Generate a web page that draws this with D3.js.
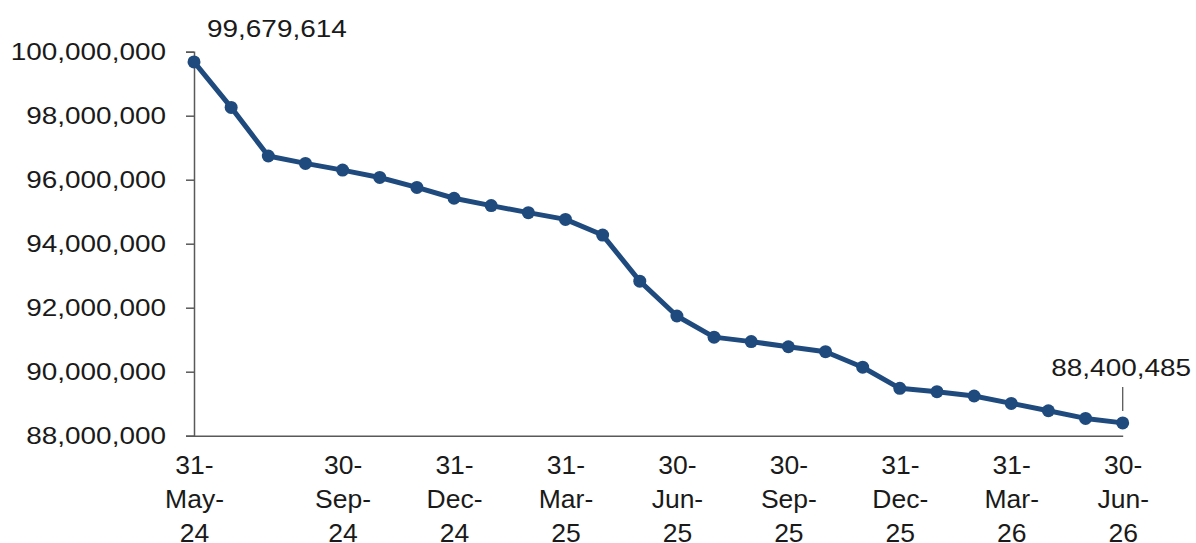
<!DOCTYPE html>
<html><head><meta charset="utf-8">
<script src="https://cdn.jsdelivr.net/npm/d3@7"></script>
<style>
html,body{margin:0;padding:0;background:#fff;}
svg{display:block;font-family:"Liberation Sans",Arial,sans-serif;}
</style></head>
<body><svg id="c" width="1196" height="543"></svg>
<script>
const months = ["May-24","Jun-24","Jul-24","Aug-24","Sep-24","Oct-24","Nov-24","Dec-24",
"Jan-25","Feb-25","Mar-25","Apr-25","May-25","Jun-25","Jul-25","Aug-25","Sep-25","Oct-25","Nov-25","Dec-25",
"Jan-26","Feb-26","Mar-26","Apr-26","May-26","Jun-26"];
const values = [99679614,98260000,96740000,96510000,96300000,96070000,95760000,95420000,
95190000,94970000,94760000,94270000,92830000,91740000,91080000,90940000,90780000,90625000,90140000,89480000,
89375000,89240000,89010000,88780000,88540000,88400485];
const tickIndex = [0,4,7,10,13,16,19,22,25];
const tickLabels = [["31-","May-","24"],["30-","Sep-","24"],["31-","Dec-","24"],["31-","Mar-","25"],
["30-","Jun-","25"],["30-","Sep-","25"],["31-","Dec-","25"],["31-","Mar-","26"],["30-","Jun-","26"]];
const yTicks = [88000000,90000000,92000000,94000000,96000000,98000000,100000000];
const annotated = [0,25];

const svg = d3.select("#c");
const SX = 1.14, FS = 24.5, XFS = 26.5;
const x = d3.scaleLinear().domain([0, months.length-1]).range([194, 1122.7]);
const y = d3.scaleLinear().domain([88000000, 100000000]).range([435.7, 51.7]);
const fmt = d3.format(",");

// y axis
const ya = svg.append("g").attr("transform","translate(194,0)")
  .call(d3.axisLeft(y).tickValues(yTicks).tickSize(8).tickPadding(20).tickFormat(fmt));
ya.select(".domain").attr("stroke","#595959").attr("stroke-width",1.5);
ya.selectAll(".tick line").attr("stroke","#595959").attr("stroke-width",1.5);
ya.selectAll(".tick text").attr("font-size",FS).attr("fill","#1a1a1a")
  .attr("font-family","Liberation Sans, Arial, sans-serif")
  .attr("x",-28/SX).attr("dy","0.3em").attr("transform",`scale(${SX},1)`);

// x axis
const xa = svg.append("g").attr("transform","translate(0,435.7)")
  .call(d3.axisBottom(x).tickValues(tickIndex).tickSize(0).tickFormat(""));
xa.select(".domain").attr("stroke","#595959").attr("stroke-width",1.5);
xa.selectAll(".tick text").each(function(d,i){
  const t = d3.select(this).attr("y",0).attr("dy",null)
    .attr("font-size",XFS).attr("fill","#1a1a1a").attr("text-anchor","middle")
    .attr("font-family","Liberation Sans, Arial, sans-serif");
  tickLabels[i].forEach((s,k)=>{
    t.append("tspan").attr("x",0).attr("y",38.6 + k*34).text(s);
  });
});

// line
const line = d3.line().x((d,i)=>x(i)).y(d=>y(d));
svg.append("path").datum(values).attr("d",line).attr("fill","none")
  .attr("stroke","#1F4A7E").attr("stroke-width",5).attr("stroke-linejoin","round");
svg.append("g").selectAll("circle").data(values).join("circle")
  .attr("cx",(d,i)=>x(i)).attr("cy",d=>y(d)).attr("r",6.5).attr("fill","#1F4A7E");

// annotations
const a0 = annotated[0];
svg.append("text").attr("x",(x(a0)+13)/SX).attr("y",y(values[a0])-25)
  .attr("transform",`scale(${SX},1)`).attr("font-size",FS).attr("fill","#1a1a1a")
  .text(fmt(values[a0]));
const a1 = annotated[1];
svg.append("line").attr("x1",x(a1)).attr("x2",x(a1))
  .attr("y1",y(values[a1])-36).attr("y2",y(values[a1])-12)
  .attr("stroke","#595959").attr("stroke-width",1.3);
svg.append("text").attr("x",(x(a1)-1.5)/SX).attr("y",y(values[a1])-46.8)
  .attr("transform",`scale(${SX},1)`).attr("text-anchor","middle").attr("font-size",FS).attr("fill","#1a1a1a")
  .text(fmt(values[a1]));
</script></body></html>
